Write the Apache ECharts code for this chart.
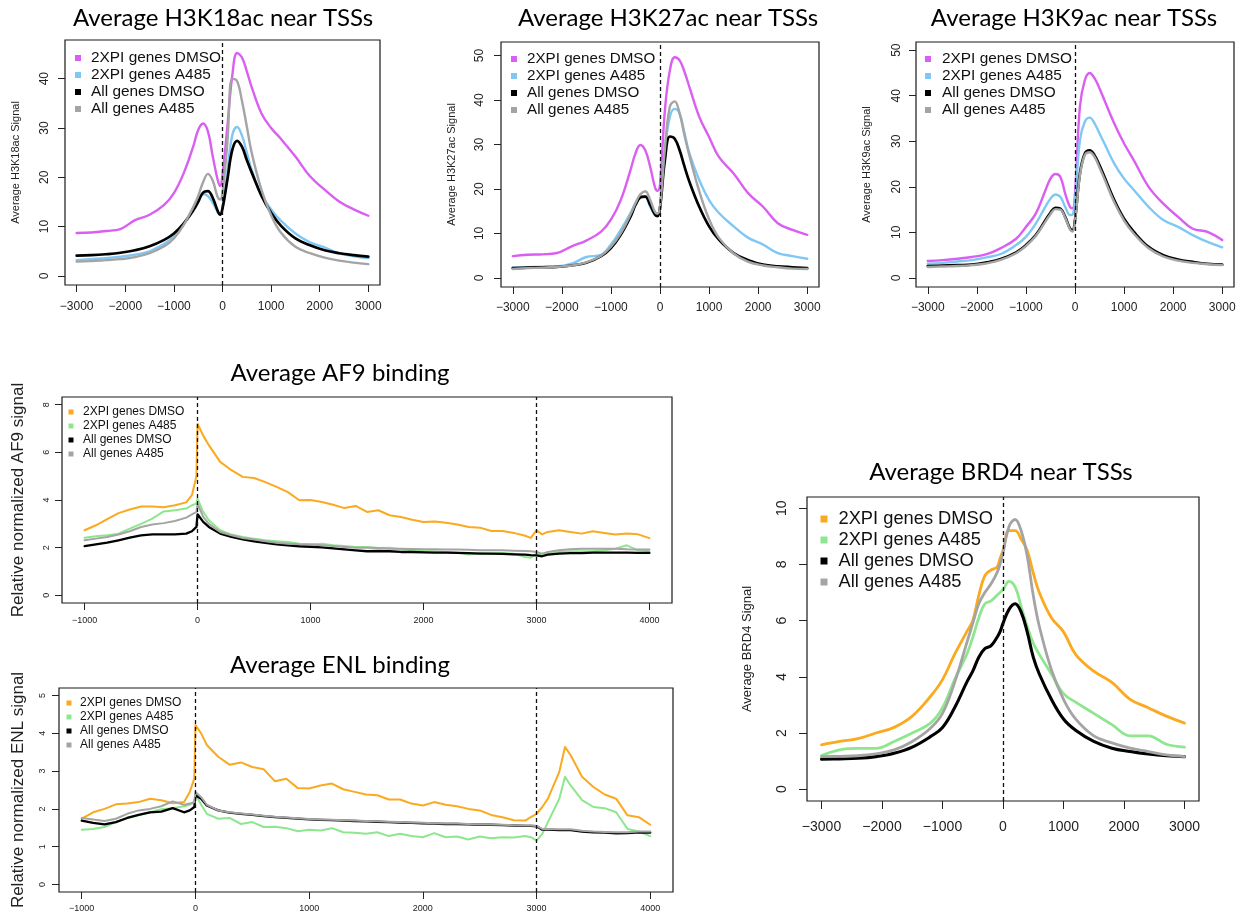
<!DOCTYPE html>
<html>
<head>
<meta charset="utf-8">
<title>Average histone acetylation and binding profiles</title>
<script src="https://cdn.jsdelivr.net/npm/echarts@6/dist/echarts.min.js"></script>
<style>
  html, body { margin: 0; padding: 0; background: #ffffff; }
  #chart { width: 1242px; height: 916px; }
</style>
</head>
<body>
<div id="chart"></div>
<script>
// ---------- data ----------
const seriesNames = ['2XPI genes DMSO', '2XPI genes A485', 'All genes DMSO', 'All genes A485'];

// positions relative to the TSS (bp)
const tssX = [-3000,-2700,-2400,-2100,-1800,-1500,-1200,-1000,-800,-600,-500,-400,-300,-200,-100,-50,0,100,200,300,400,500,600,800,1000,1200,1500,1800,2100,2400,2700,3000];

// H3K18ac
const k18Xpi2Dmso = [8.7,8.8,9.1,9.5,11.3,12.4,14.4,16.8,20.8,26.3,29.6,30.9,29.3,24.2,19.5,18.2,20.5,30.3,40.5,45.2,44.3,41.5,38.3,33.0,30.0,27.8,24.2,20.2,17.5,15.1,13.5,12.2];
const k18Xpi2A485 = [3.2,3.4,3.6,3.9,4.3,5.0,6.5,8.0,10.5,13.8,15.5,16.6,16.2,14.8,13.0,12.6,13.5,21.0,28.5,30.2,28.5,25.0,21.5,16.5,13.5,11.2,8.6,6.8,5.8,4.6,4.0,3.6];
const k18AllDmso  = [4.1,4.2,4.4,4.7,5.2,6.0,7.3,8.6,10.6,13.3,15.0,16.9,17.2,15.8,13.2,12.4,13.7,19.5,25.5,27.4,26.2,23.5,21.0,16.3,12.8,10.2,7.6,6.2,5.2,4.6,4.2,3.9];
const k18AllA485  = [2.9,3.0,3.2,3.4,3.8,4.6,6.0,7.6,10.3,14.0,16.2,19.0,20.7,19.3,16.0,15.5,17.0,27.0,40.0,39.5,35.5,30.3,25.0,17.5,12.3,8.8,5.9,4.6,3.7,3.1,2.7,2.4];

// H3K27ac
const k27Xpi2Dmso = [4.9,5.2,5.3,5.6,7.1,8.4,10.4,13.1,17.5,24.3,28.0,29.9,28.7,25.0,20.3,19.6,21.0,37.7,46.6,49.6,48.9,46.3,42.9,36.2,31.7,27.2,23.5,19.0,16.0,12.3,10.8,9.7];
const k27Xpi2A485 = [2.3,2.4,2.5,2.6,3.2,4.7,5.2,7.5,10.8,14.6,16.8,18.3,18.3,16.0,14.2,14.0,16.0,28.7,36.2,38.0,36.9,32.5,28.0,22.0,17.5,14.6,11.6,9.0,7.5,5.6,4.9,4.3];
const k27AllDmso  = [2.2,2.3,2.4,2.5,2.8,3.4,4.9,6.7,9.7,13.8,16.4,18.1,18.3,16.4,14.2,13.9,15.7,26.5,31.8,31.3,28.7,25.0,21.6,16.0,11.6,8.6,5.6,4.0,3.0,2.6,2.4,2.2];
const k27AllA485  = [2.0,2.2,2.3,2.5,2.8,3.5,5.0,7.0,10.0,14.3,16.8,18.8,19.5,17.5,14.8,14.5,16.0,29.0,38.5,39.7,37.0,32.0,27.5,19.5,13.2,9.0,5.5,3.6,2.8,2.4,2.1,2.0];

// H3K9ac
const k9Xpi2Dmso = [3.7,3.9,4.2,4.6,5.2,6.6,8.6,11.2,14.1,19.3,21.8,22.8,22.2,18.5,15.5,15.3,18.5,37.6,43.4,45.0,43.8,41.6,39.0,33.9,29.5,25.8,20.0,16.3,13.4,10.8,10.1,8.3];
const k9Xpi2A485 = [3.1,3.3,3.6,3.9,4.5,5.3,7.2,9.0,11.9,15.7,17.4,18.3,17.8,15.6,13.8,13.9,17.0,30.2,34.3,35.2,33.9,31.7,29.5,25.1,21.8,19.3,15.6,12.7,11.2,9.4,7.9,6.7];
const k9AllDmso  = [2.6,2.7,2.8,2.9,3.4,4.2,5.6,7.2,9.4,12.7,14.3,15.4,15.2,13.4,10.8,10.5,12.7,22.9,27.3,28.0,26.9,24.7,22.2,17.1,13.0,10.1,6.8,5.0,4.0,3.5,3.1,2.9];
const k9AllA485  = [2.4,2.5,2.6,2.8,3.2,4.0,5.4,7.0,9.2,12.4,14.0,15.1,15.0,13.2,10.6,10.2,12.4,22.5,27.0,27.6,26.5,24.2,21.7,16.6,12.6,9.7,6.5,4.7,3.8,3.3,3.0,2.8];

// BRD4
const brd4Xpi2Dmso = [1.58,1.7,1.8,2.0,2.2,2.6,3.3,3.9,4.8,5.6,6.0,6.9,7.6,7.8,7.9,8.2,8.5,9.2,9.2,8.9,8.5,7.7,7.0,6.1,5.6,4.8,4.2,3.8,3.2,2.9,2.6,2.35];
const brd4Xpi2A485 = [1.2,1.4,1.45,1.45,1.7,2.0,2.35,2.9,3.9,4.8,5.4,6.1,6.6,6.7,6.9,7.0,7.1,7.4,7.2,6.5,5.8,5.2,4.8,4.1,3.4,3.1,2.7,2.3,1.9,1.9,1.6,1.5];
const brd4AllDmso  = [1.07,1.08,1.1,1.16,1.28,1.5,1.87,2.2,2.9,3.8,4.2,4.7,5.0,5.1,5.4,5.6,5.9,6.4,6.6,6.3,5.6,4.7,4.1,3.2,2.5,2.1,1.7,1.46,1.34,1.25,1.19,1.16];
const brd4AllA485  = [1.16,1.17,1.19,1.26,1.4,1.7,2.17,2.7,3.8,5.2,5.9,6.6,7.0,7.3,7.7,8.0,8.4,9.35,9.6,9.2,8.3,6.9,5.8,4.25,3.2,2.5,1.9,1.65,1.46,1.34,1.22,1.16];

// AF9 over scaled gene bodies (TSS at 0, TES at 3000)
const af9X = [-1000,-900,-800,-700,-600,-500,-400,-300,-200,-100,-50,-10,0,50,
  100,200,300,400,500,600,700,800,900,1000,1100,1200,1300,1400,1500,1600,1700,1800,1900,2000,2100,2200,2300,2400,2500,2600,2700,2800,2900,
  2950,3000,3050,
  3100,3200,3300,3400,3500,3600,3700,3800,3900,4000];
const af9Xpi2Dmso = [2.73,2.94,3.2,3.45,3.6,3.73,3.73,3.7,3.78,3.9,4.2,5.0,7.2,6.7,
  6.3,5.6,5.25,4.97,4.92,4.75,4.55,4.33,3.99,4.0,3.92,3.8,3.66,3.75,3.5,3.57,3.36,3.29,3.17,3.08,3.1,3.05,2.97,2.87,2.84,2.7,2.7,2.62,2.5,
  2.41,2.73,2.56,
  2.66,2.73,2.66,2.59,2.69,2.62,2.55,2.59,2.56,2.4];
const af9Xpi2A485 = [2.42,2.48,2.52,2.59,2.8,3.0,3.22,3.52,3.57,3.64,3.78,3.85,4.06,3.5,
  3.15,2.73,2.55,2.45,2.38,2.31,2.27,2.24,2.17,2.14,2.17,2.1,2.07,2.03,2.03,1.99,2.0,1.93,1.89,1.86,1.85,1.82,1.79,1.71,1.78,1.75,1.78,1.75,1.61,
  1.58,1.75,1.68,
  1.75,1.82,1.85,1.85,1.85,1.89,1.96,2.1,1.89,1.85];
const af9AllDmso = [2.07,2.14,2.21,2.31,2.42,2.52,2.56,2.56,2.56,2.59,2.69,2.87,3.4,3.08,
  2.87,2.59,2.45,2.35,2.27,2.2,2.14,2.1,2.06,2.04,2.01,1.97,1.93,1.89,1.85,1.86,1.85,1.82,1.82,1.8,1.79,1.79,1.78,1.77,1.75,1.75,1.74,1.72,1.71,
  1.69,1.68,1.64,
  1.71,1.75,1.77,1.77,1.79,1.79,1.79,1.79,1.78,1.78];
const af9AllA485 = [2.31,2.38,2.45,2.55,2.69,2.87,2.97,3.03,3.12,3.26,3.4,3.5,3.85,3.29,
  3.0,2.66,2.52,2.41,2.34,2.27,2.21,2.17,2.14,2.13,2.1,2.07,2.03,2.0,2.0,1.99,1.96,1.96,1.94,1.93,1.93,1.92,1.92,1.91,1.89,1.89,1.89,1.87,1.86,
  1.85,1.82,1.75,
  1.82,1.89,1.93,1.96,1.96,1.96,1.96,1.93,1.92,1.92];

// ENL over scaled gene bodies
const enlX = [-1000,-900,-800,-700,-600,-500,-400,-300,-200,-100,-50,-10,0,50,
  100,200,300,400,500,600,700,800,900,1000,1100,1200,1300,1400,1500,1600,1700,1800,1900,2000,2100,2200,2300,2400,2500,2600,2700,2800,2900,
  2950,3000,3050,
  3100,3200,3250,3300,3400,3500,3600,3700,3800,3900,4000];
const enlXpi2Dmso = [1.74,1.91,2.0,2.12,2.14,2.18,2.27,2.23,2.15,2.18,2.45,2.8,4.22,4.0,
  3.69,3.38,3.17,3.23,3.11,3.05,2.73,2.8,2.55,2.54,2.62,2.67,2.52,2.45,2.38,2.36,2.25,2.25,2.14,2.09,2.18,2.11,2.07,2.0,1.96,1.84,1.78,1.7,1.69,
  1.78,1.87,2.05,
  2.27,2.98,3.64,3.42,2.85,2.58,2.38,2.27,1.83,1.78,1.58];
const enlXpi2A485 = [1.45,1.47,1.52,1.65,1.76,1.83,1.91,1.99,2.02,2.07,2.11,2.18,2.4,2.11,
  1.87,1.74,1.76,1.6,1.65,1.52,1.53,1.49,1.41,1.45,1.43,1.49,1.38,1.37,1.34,1.38,1.28,1.34,1.28,1.25,1.36,1.25,1.27,1.19,1.27,1.22,1.25,1.24,1.28,
  1.25,1.16,1.34,
  1.65,2.27,2.85,2.62,2.23,2.05,2.02,1.91,1.47,1.4,1.28];
const enlAllDmso = [1.69,1.63,1.59,1.65,1.76,1.84,1.91,1.93,2.02,1.91,1.96,2.05,2.36,2.27,
  2.09,1.96,1.9,1.87,1.84,1.81,1.78,1.76,1.74,1.72,1.71,1.7,1.69,1.68,1.67,1.66,1.65,1.64,1.63,1.62,1.61,1.6,1.6,1.59,1.58,1.58,1.57,1.56,1.55,
  1.55,1.54,1.45,
  1.45,1.44,1.44,1.44,1.4,1.38,1.37,1.35,1.36,1.38,1.37];
const enlAllA485 = [1.76,1.72,1.68,1.74,1.87,1.96,2.0,2.07,2.2,2.11,2.14,2.18,2.45,2.31,
  2.11,1.96,1.91,1.88,1.85,1.82,1.79,1.77,1.75,1.73,1.72,1.71,1.7,1.69,1.68,1.67,1.66,1.65,1.64,1.63,1.62,1.61,1.61,1.6,1.59,1.59,1.58,1.57,1.56,
  1.56,1.55,1.47,
  1.47,1.46,1.46,1.46,1.42,1.4,1.39,1.38,1.38,1.4,1.4];

// tick positions
const tssTicks = [-3000,-2000,-1000,0,1000,2000,3000];
const bodyTicks = [-1000,0,1000,2000,3000,4000];
const k18Ticks = [0,10,20,30,40];
const k27Ticks = [0,10,20,30,40,50];
const k9Ticks = [0,10,20,30,40,50];
const af9Ticks = [0,2,4,6,8];
const enlTicks = [0,1,2,3,4,5];
const brd4Ticks = [0,2,4,6,8,10];

// reference positions (TSS, TES)
const tssMarks = [0];
const bodyMarks = [0, 3000];

// ---------- styles ----------
const acetylColors = ['#DA5EF1', '#7FC8F5', '#000000', '#A4A4A4'];
const bindingColors = ['#FBA91E', '#8EE68E', '#000000', '#A4A4A4'];
const TEXT_FONT = 'Liberation Sans';
const TITLE_FONT = 'Lato';

const panels = [
  { title: 'Average H3K18ac near TSSs', yName: 'Average H3K18ac Signal',
    x: tssX, ys: [k18Xpi2Dmso, k18Xpi2A485, k18AllDmso, k18AllA485], colors: acetylColors,
    xTicks: tssTicks, yTicks: k18Ticks, marks: tssMarks, smooth: 0.4,
    box: [65, 40, 315, 245], xr: [-3240, 3240], yr: [-1.84, 47.84],
    tc: [223, 18], lg: { left: 75, top: 49.5, size: 6, font: 15.4, line: 17, pad: 5 },
    tick: 12, xm: 16, ym: 14, nf: 11, ng: 43.5, lw: 2.4, tl: 7 },
  { title: 'Average H3K27ac near TSSs', yName: 'Average H3K27ac Signal',
    x: tssX, ys: [k27Xpi2Dmso, k27Xpi2A485, k27AllDmso, k27AllA485], colors: acetylColors,
    xTicks: tssTicks, yTicks: k27Ticks, marks: tssMarks, smooth: 0.4,
    box: [501, 42, 318, 245], xr: [-3240, 3240], yr: [-2.04, 53.04],
    tc: [668, 18], lg: { left: 511, top: 50.5, size: 6, font: 15.2, line: 17, pad: 5 },
    tick: 12, xm: 15, ym: 15, nf: 11, ng: 43.5, lw: 2.4, tl: 7 },
  { title: 'Average H3K9ac near TSSs', yName: 'Average H3K9ac Signal',
    x: tssX, ys: [k9Xpi2Dmso, k9Xpi2A485, k9AllDmso, k9AllA485], colors: acetylColors,
    xTicks: tssTicks, yTicks: k9Ticks, marks: tssMarks, smooth: 0.4,
    box: [916, 42, 318, 245], xr: [-3240, 3240], yr: [-2.0, 51.8],
    tc: [1074, 18], lg: { left: 925, top: 50.5, size: 6, font: 15.4, line: 17, pad: 6 },
    tick: 12, xm: 15, ym: 13, nf: 11, ng: 43.5, lw: 2.4, tl: 7 },
  { title: 'Average AF9 binding', yName: 'Relative normalized AF9 signal',
    x: af9X, ys: [af9Xpi2Dmso, af9Xpi2A485, af9AllDmso, af9AllA485], colors: bindingColors,
    xTicks: bodyTicks, yTicks: af9Ticks, marks: bodyMarks, smooth: false,
    box: [62, 397, 610, 206], xr: [-1200, 4200], yr: [-0.32, 8.32],
    tc: [340, 373], lg: { left: 68.5, top: 405, size: 5, font: 12, line: 14, pad: 4.5 },
    tick: 9, xm: 13.5, ym: 10.5, nf: 17, ng: 35, lw: 2, tl: 7 },
  { title: 'Average ENL binding', yName: 'Relative normalized ENL signal',
    x: enlX, ys: [enlXpi2Dmso, enlXpi2A485, enlAllDmso, enlAllA485], colors: bindingColors,
    xTicks: bodyTicks, yTicks: enlTicks, marks: bodyMarks, smooth: false,
    box: [59, 688, 614, 204], xr: [-1200, 4200], yr: [-0.2, 5.2],
    tc: [340, 665], lg: { left: 66.5, top: 696, size: 5, font: 12, line: 14, pad: 3.5 },
    tick: 9, xm: 12.5, ym: 11.5, nf: 17, ng: 32, lw: 2, tl: 7 },
  { title: 'Average BRD4 near TSSs', yName: 'Average BRD4 Signal',
    x: tssX, ys: [brd4Xpi2Dmso, brd4Xpi2A485, brd4AllDmso, brd4AllA485], colors: bindingColors,
    xTicks: tssTicks, yTicks: brd4Ticks, marks: tssMarks, smooth: 0.4,
    box: [807, 497, 392, 304], xr: [-3240, 3240], yr: [-0.42, 10.4],
    tc: [1001, 472], lg: { left: 820.5, top: 508.5, size: 7, font: 18.3, line: 21, pad: 6 },
    tick: 14, xm: 19, ym: 18, nf: 13, ng: 53.5, lw: 2.8, tl: 8 }
];

const fmt = v => (v < 0 ? '\u2212' + Math.abs(v) : String(v));

const option = {
  animation: false,
  backgroundColor: '#ffffff',
  title: [], grid: [], xAxis: [], yAxis: [], legend: [], series: []
};

panels.forEach((p, i) => {
  option.title.push({
    text: p.title, left: p.tc[0], top: p.tc[1], padding: 0,
    textAlign: 'center', textVerticalAlign: 'middle',
    textStyle: { fontFamily: TITLE_FONT, fontSize: 24, fontWeight: 'normal', color: '#000' }
  });
  option.grid.push({
    left: p.box[0], top: p.box[1], width: p.box[2], height: p.box[3],
    show: true, borderColor: '#1a1a1a', borderWidth: 1.2, backgroundColor: 'transparent'
  });
  option.xAxis.push({
    type: 'value', gridIndex: i, min: p.xr[0], max: p.xr[1],
    axisLine: { show: false, onZero: false },
    splitLine: { show: false },
    axisTick: { show: true, inside: false, length: p.tl, customValues: p.xTicks, lineStyle: { color: '#222', width: 1 } },
    axisLabel: { customValues: p.xTicks, formatter: fmt, margin: p.xm, fontFamily: TEXT_FONT, fontSize: p.tick, color: '#222' }
  });
  option.yAxis.push({
    type: 'value', gridIndex: i, min: p.yr[0], max: p.yr[1],
    axisLine: { show: false, onZero: false },
    splitLine: { show: false },
    axisTick: { show: true, inside: false, length: p.tl, customValues: p.yTicks, lineStyle: { color: '#222', width: 1 } },
    axisLabel: { customValues: p.yTicks, rotate: 90, margin: p.ym, fontFamily: TEXT_FONT, fontSize: p.tick, color: '#222' },
    name: p.yName, nameLocation: 'middle', nameRotate: 90, nameGap: p.ng,
    nameTextStyle: { fontFamily: TEXT_FONT, fontSize: p.nf, color: '#222' }
  });
  option.legend.push({
    orient: 'vertical', left: p.lg.left, top: p.lg.top, padding: 0, itemGap: 0,
    itemWidth: p.lg.size, itemHeight: p.lg.size, icon: 'rect', selectedMode: false,
    textStyle: { fontFamily: TEXT_FONT, fontSize: p.lg.font, lineHeight: p.lg.line, color: '#111', padding: [0, 0, 0, p.lg.pad] },
    data: seriesNames.map((n, k) => ({ name: n, itemStyle: { color: p.colors[k], borderWidth: 0 } }))
  });
  p.ys.forEach((ys, k) => {
    const s = {
      type: 'line', name: seriesNames[k], xAxisIndex: i, yAxisIndex: i,
      data: p.x.map((x, j) => [x, ys[j]]),
      showSymbol: false, symbol: 'none', smooth: p.smooth, clip: true,
      lineStyle: { color: p.colors[k], width: k === 2 ? p.lw + 0.3 : p.lw, cap: 'round', join: 'round' },
      itemStyle: { color: p.colors[k] },
      emphasis: { disabled: true }, silent: true
    };
    if (k === 0) {
      s.markLine = {
        silent: true, symbol: ['none', 'none'], animation: false,
        label: { show: false },
        lineStyle: { type: [4, 3], color: '#111', width: 1.3 },
        data: p.marks.map(v => ({ xAxis: v }))
      };
    }
    option.series.push(s);
  });
});

const chart = echarts.init(document.getElementById('chart'), null, { renderer: 'canvas' });
chart.setOption(option);
</script>
</body>
</html>
